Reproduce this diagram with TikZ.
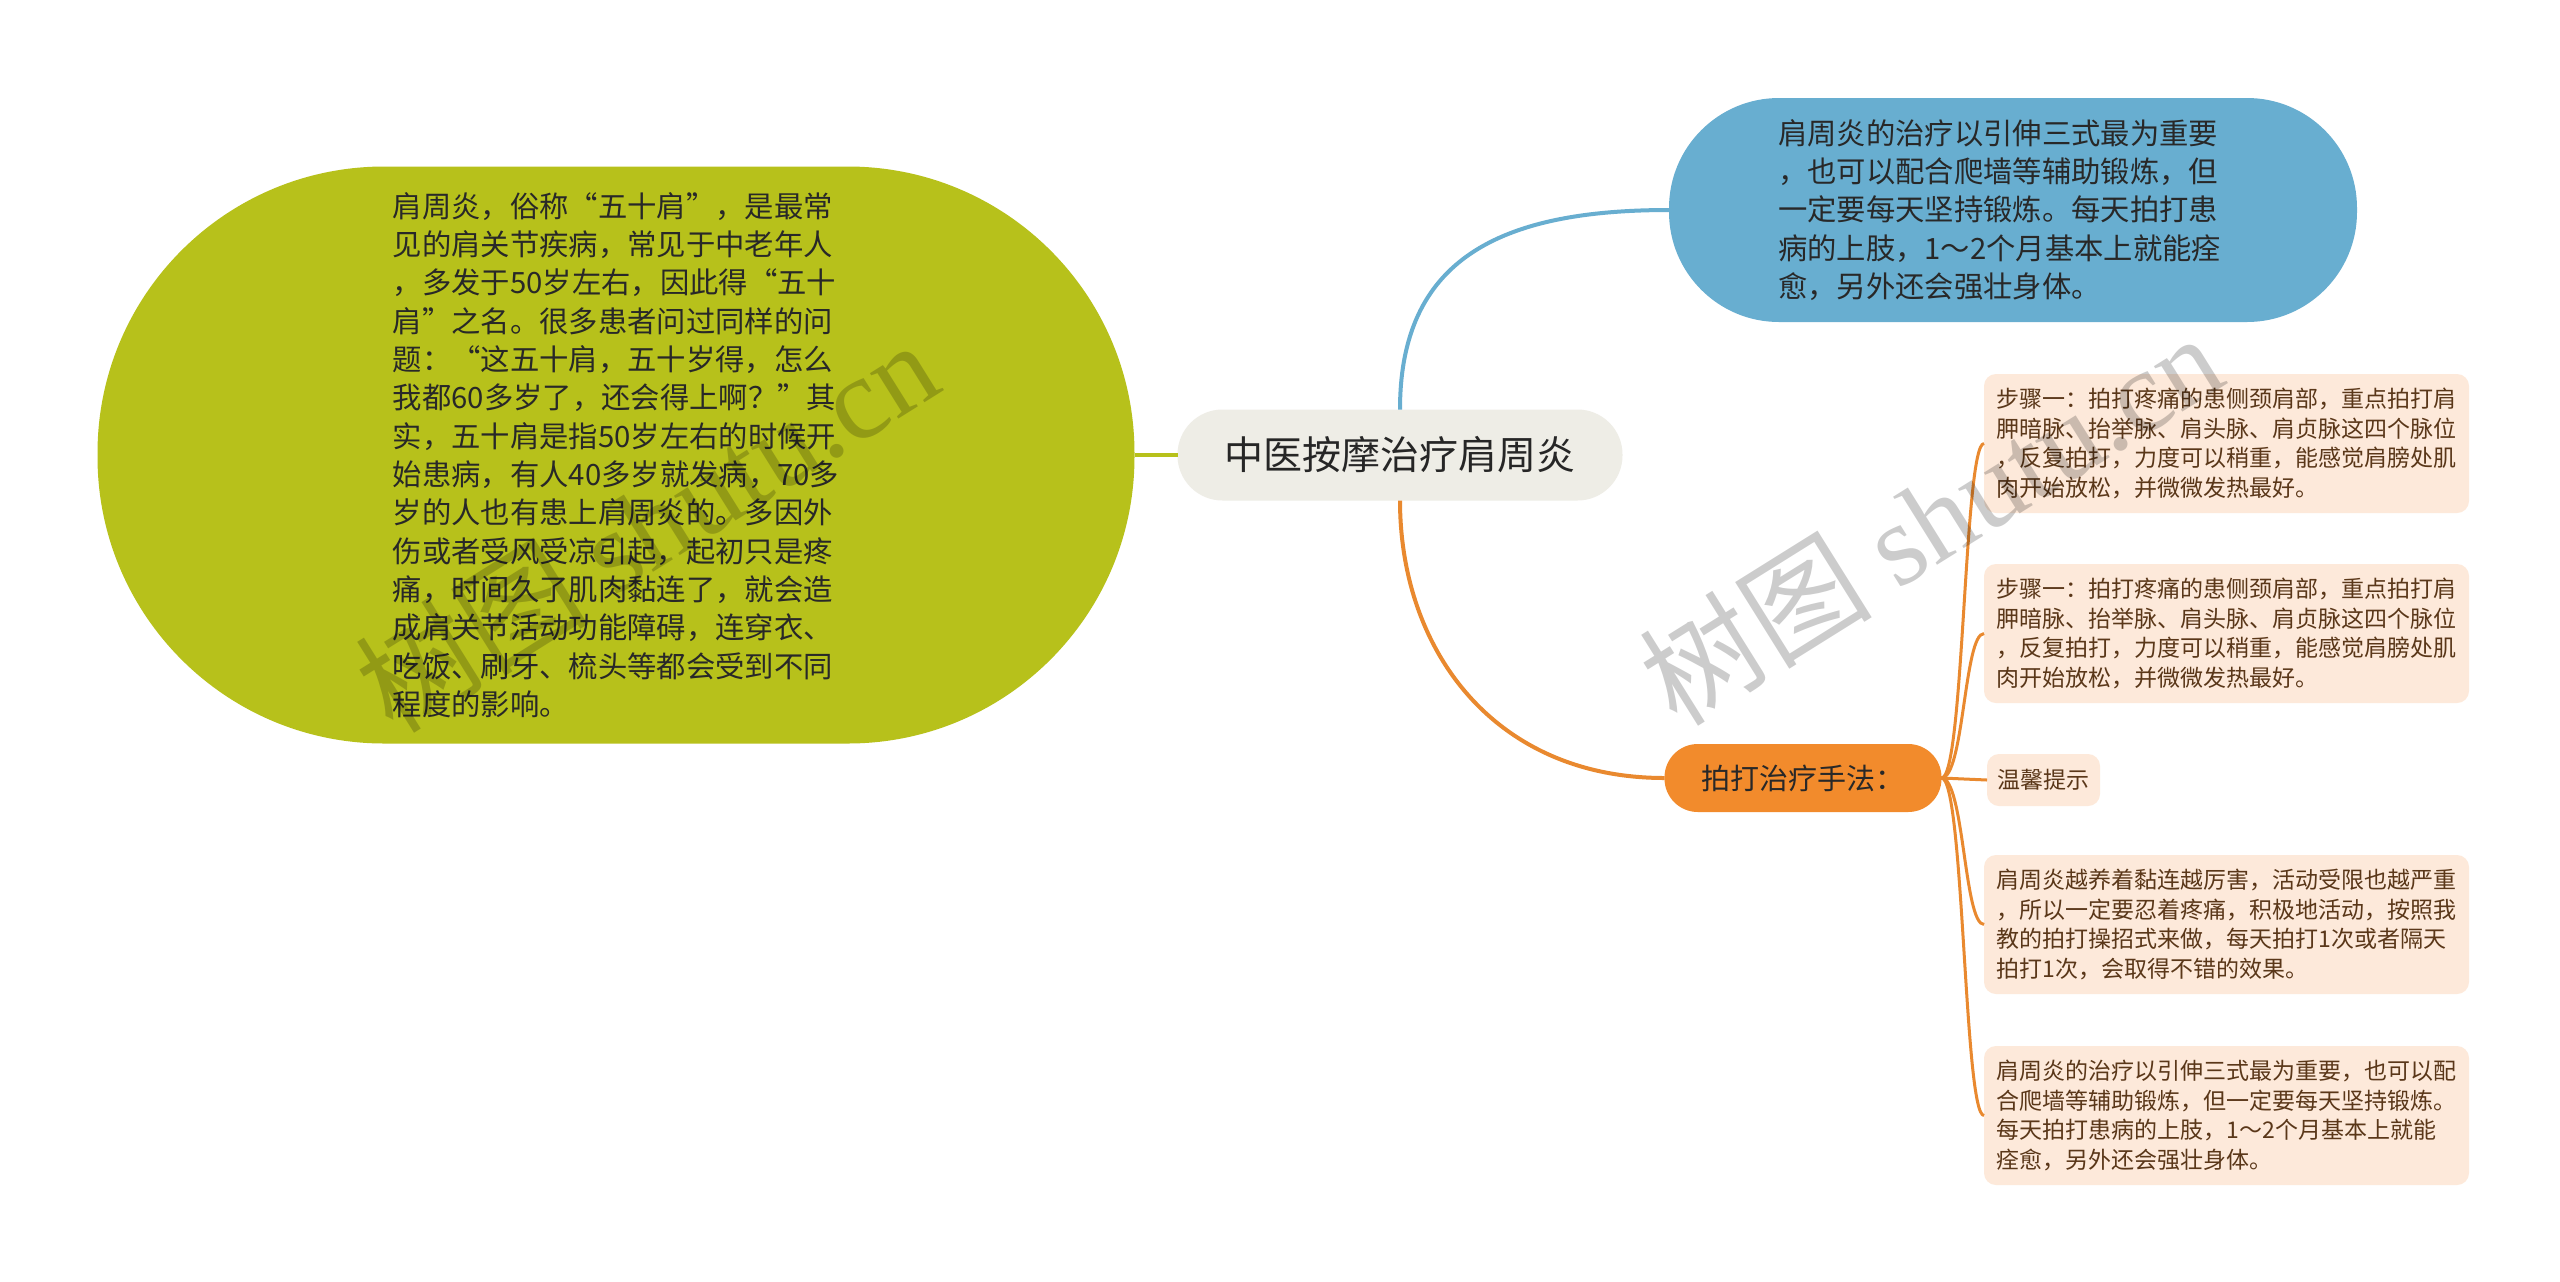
\documentclass[tikz,border=0pt]{standalone}
\usepackage{fontspec}
\setmainfont{Noto Sans CJK SC}
\newfontfamily\wmserif{Liberation Serif}
\definecolor{cgreen}{RGB}{183,193,27}
\definecolor{cblue}{RGB}{104,174,208}
\definecolor{ccentral}{RGB}{238,237,230}
\definecolor{corange}{RGB}{242,139,44}
\definecolor{corangeline}{RGB}{233,137,47}
\definecolor{cleaf}{RGB}{253,233,218}
\definecolor{cleaftext}{RGB}{90,55,25}
\definecolor{cmaintext}{RGB}{40,40,40}
\begin{document}
\begin{tikzpicture}[x=0.3pt,y=-0.3pt,
  base/.style={inner sep=0pt, outer sep=0pt, align=left, text=cmaintext},
  bigtext/.style={font=\fontsize{8.8pt}{11.5pt}\selectfont},
  greenbox/.style={base, bigtext, fill=cgreen, minimum width=311.1pt, minimum height=173.1pt, rounded corners=86pt},
  bluebox/.style={base, bigtext, fill=cblue, minimum width=206.4pt, minimum height=67.2pt, rounded corners=33pt},
  centralbox/.style={base, fill=ccentral, minimum width=133.5pt, minimum height=27.3pt, rounded corners=13.5pt, font=\fontsize{11.7pt}{14pt}\selectfont, text=black!85},
  orangebox/.style={base, fill=corange, minimum width=83.1pt, minimum height=20.4pt, rounded corners=10pt, font=\fontsize{8.7pt}{10pt}\selectfont},
  leafbox/.style={base, fill=cleaf, text=cleaftext, minimum width=145.5pt, minimum height=41.7pt, rounded corners=3.6pt, font=\fontsize{6.9pt}{8.85pt}\selectfont},
  smallleaf/.style={leafbox, minimum width=33.9pt, minimum height=15.6pt},
  mainline/.style={line width=1.2pt},
  leafline/.style={line width=0.9pt, draw=corangeline},
  wm/.style={inner sep=0pt, text=black, text opacity=0.2, font=\fontsize{35pt}{40pt}\selectfont, rotate=32}]
\fill[white] (0,0) rectangle (2560,1281);
\useasboundingbox (0,0) rectangle (2560,1281);

% nodes
\node[centralbox] (central) at (1400,455) {中医按摩治疗肩周炎};

\node[greenbox] (green) at (616,455) {肩周炎，俗称“五十肩”，是最常\\%
见的肩关节疾病，常见于中老年人\\%
，多发于50岁左右，因此得“五十\\%
肩”之名。很多患者问过同样的问\\%
题：“这五十肩，五十岁得，怎么\\%
我都60多岁了，还会得上啊？”其\\%
实，五十肩是指50岁左右的时候开\\%
始患病，有人40多岁就发病，70多\\%
岁的人也有患上肩周炎的。多因外\\%
伤或者受风受凉引起，起初只是疼\\%
痛，时间久了肌肉黏连了，就会造\\%
成肩关节活动功能障碍，连穿衣、\\%
吃饭、刷牙、梳头等都会受到不同\\%
程度的影响。};

\node[bluebox] (blue) at (2013,210) {肩周炎的治疗以引伸三式最为重要\hspace*{9pt}\\%
，也可以配合爬墙等辅助锻炼，但\\%
一定要每天坚持锻炼。每天拍打患\\%
病的上肢，1～2个月基本上就能痊\\%
愈，另外还会强壮身体。};

\node[orangebox] (orange) at (1803,778) {拍打治疗手法：};

\node[leafbox] (leafa) at (2226.5,443.5) {步骤一：拍打疼痛的患侧颈肩部，重点拍打肩\\%
胛暗脉、抬举脉、肩头脉、肩贞脉这四个脉位\\%
，反复拍打，力度可以稍重，能感觉肩膀处肌\\%
肉开始放松，并微微发热最好。};

\node[leafbox] (leafb) at (2226.5,633.5) {步骤一：拍打疼痛的患侧颈肩部，重点拍打肩\\%
胛暗脉、抬举脉、肩头脉、肩贞脉这四个脉位\\%
，反复拍打，力度可以稍重，能感觉肩膀处肌\\%
肉开始放松，并微微发热最好。};

\node[smallleaf] (leafc) at (2043.5,780) {温馨提示};

\node[leafbox] (leafd) at (2226.5,924.5) {肩周炎越养着黏连越厉害，活动受限也越严重\\%
，所以一定要忍着疼痛，积极地活动，按照我\\%
教的拍打操招式来做，每天拍打1次或者隔天\\%
拍打1次，会取得不错的效果。};

\node[leafbox] (leafe) at (2226.5,1115.5) {肩周炎的治疗以引伸三式最为重要，也可以配\\%
合爬墙等辅助锻炼，但一定要每天坚持锻炼。\\%
每天拍打患病的上肢，1～2个月基本上就能\\%
痊愈，另外还会强壮身体。};

% connectors
\draw[mainline, draw=cgreen] (green.east) -- (central.west);
\draw[mainline, draw=cblue] (central.north) .. controls +(0,-150) and +(-170,0) .. (blue.west);
\draw[mainline, draw=corangeline] (central.south) .. controls +(0,150) and +(-170,0) .. (orange.west);

\draw[leafline] (orange.east) -- (leafc.west);
\foreach \n in {leafa,leafb,leafd,leafe}{
  \draw[leafline] (orange.east) .. controls (1964,778) and (1964,0 |- \n.west) .. (\n.west);
}

% watermarks
\node[wm] (wma) at (646,525) {树图 {\wmserif shutu.cn}};
\node[wm] (wmb) at (1930,518) {树图 {\wmserif shutu.cn}};
\end{tikzpicture}
\end{document}
